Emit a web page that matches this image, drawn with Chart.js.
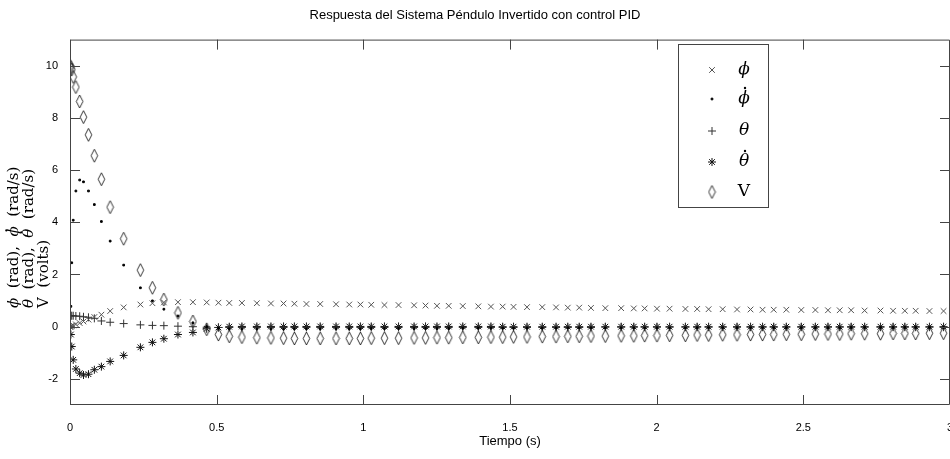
<!DOCTYPE html>
<html>
<head>
<meta charset="utf-8">
<script src="https://cdn.jsdelivr.net/npm/chart.js@4/dist/chart.umd.min.js"></script>
<style>
  body { margin: 0; background: #fff; }
</style>
</head>
<body>
<canvas id="grafico" width="950" height="459"></canvas>
<script>
// tiempos de muestreo (s)
const tiempo = [0, 0.003, 0.006, 0.011, 0.020, 0.033, 0.046, 0.063, 0.083, 0.107,
  0.137, 0.183, 0.240, 0.281, 0.320, 0.368, 0.419, 0.466, 0.506, 0.543,
  0.586, 0.637, 0.685, 0.728, 0.765, 0.806, 0.853, 0.907, 0.952, 0.990,
  1.027, 1.072, 1.120, 1.173, 1.212, 1.251, 1.291, 1.339, 1.392, 1.435,
  1.475, 1.512, 1.558, 1.610, 1.657, 1.697, 1.736, 1.776, 1.825, 1.879,
  1.922, 1.959, 2.001, 2.044, 2.098, 2.138, 2.177, 2.225, 2.274, 2.320,
  2.361, 2.399, 2.442, 2.493, 2.541, 2.584, 2.624, 2.663, 2.709, 2.763,
  2.806, 2.846, 2.883, 2.930, 2.978]

// phi (rad)
const phi = [0, 0.01, 0.03, 0.05, 0.09, 0.14, 0.2, 0.27, 0.37, 0.46,
  0.6, 0.74, 0.85, 0.9, 0.93, 0.94, 0.94, 0.93, 0.92, 0.91,
  0.91, 0.9, 0.89, 0.89, 0.88, 0.87, 0.87, 0.86, 0.85, 0.85,
  0.84, 0.83, 0.83, 0.82, 0.81, 0.8, 0.8, 0.79, 0.78, 0.77,
  0.77, 0.76, 0.75, 0.75, 0.74, 0.73, 0.73, 0.72, 0.71, 0.71,
  0.7, 0.7, 0.69, 0.69, 0.68, 0.68, 0.67, 0.67, 0.66, 0.66,
  0.65, 0.65, 0.65, 0.64, 0.64, 0.63, 0.63, 0.63, 0.62, 0.62,
  0.61, 0.61, 0.61, 0.6, 0.6]

// phi punto (rad/s)
const phiDot = [0, 0.78, 2.45, 4.08, 5.2, 5.62, 5.55, 5.2, 4.68, 4.03,
  3.28, 2.36, 1.49, 0.99, 0.67, 0.41, 0.15, 0.0, -0.06, -0.08,
  -0.09, -0.09, -0.09, -0.09, -0.08, -0.08, -0.08, -0.08, -0.08, -0.08,
  -0.07, -0.07, -0.07, -0.07, -0.07, -0.07, -0.07, -0.06, -0.06, -0.06,
  -0.06, -0.06, -0.06, -0.06, -0.06, -0.05, -0.05, -0.05, -0.05, -0.05,
  -0.05, -0.05, -0.05, -0.05, -0.05, -0.04, -0.04, -0.04, -0.04, -0.04,
  -0.04, -0.04, -0.04, -0.04, -0.04, -0.04, -0.04, -0.03, -0.03, -0.03,
  -0.03, -0.03, -0.03, -0.03, -0.03]

// theta (rad)
const theta = [0.42, 0.42, 0.42, 0.42, 0.41, 0.4, 0.38, 0.36, 0.32, 0.22,
  0.17, 0.12, 0.07, 0.05, 0.04, 0.02, 0.0, -0.02, -0.03, -0.03,
  -0.03, -0.03, -0.03, -0.03, -0.03, -0.03, -0.03, -0.03, -0.03, -0.03,
  -0.03, -0.03, -0.03, -0.03, -0.03, -0.03, -0.03, -0.03, -0.03, -0.03,
  -0.03, -0.03, -0.03, -0.03, -0.03, -0.03, -0.03, -0.03, -0.02, -0.02,
  -0.02, -0.02, -0.02, -0.02, -0.02, -0.02, -0.02, -0.02, -0.02, -0.02,
  -0.02, -0.02, -0.02, -0.02, -0.02, -0.02, -0.02, -0.02, -0.02, -0.02,
  -0.02, -0.02, -0.02, -0.02, -0.02]

// theta punto (rad/s)
const thetaDot = [0, -0.3, -0.76, -1.27, -1.62, -1.78, -1.85, -1.82, -1.65, -1.53,
  -1.33, -1.1, -0.79, -0.6, -0.46, -0.3, -0.22, -0.08, -0.03, 0.0,
  0.01, 0.01, 0.01, 0.01, 0.01, 0.01, 0.01, 0.01, 0.01, 0.01,
  0.01, 0.01, 0.01, 0.01, 0.01, 0.01, 0.01, 0.01, 0.01, 0.01,
  0.0, 0.0, 0.0, 0.0, 0.0, 0.0, 0.0, 0.0, 0.0, 0.0,
  0.0, 0.0, 0.0, 0.0, 0.0, 0.0, 0.0, 0.0, 0.0, 0.0,
  0.0, 0.0, 0.0, 0.0, 0.0, 0.0, 0.0, 0.0, 0.0, 0.0,
  0.0, 0.0, 0.0, 0.0, 0.0]

// V (volts)
const volts = [10, 9.95, 9.85, 9.57, 9.18, 8.63, 8.03, 7.35, 6.55, 5.65,
  4.58, 3.37, 2.17, 1.49, 1.04, 0.53, 0.2, -0.1, -0.3, -0.37,
  -0.4, -0.42, -0.43, -0.44, -0.45, -0.45, -0.45, -0.45, -0.45, -0.45,
  -0.44, -0.44, -0.44, -0.43, -0.43, -0.42, -0.42, -0.41, -0.41, -0.4,
  -0.4, -0.39, -0.39, -0.38, -0.38, -0.37, -0.37, -0.36, -0.36, -0.35,
  -0.35, -0.34, -0.34, -0.33, -0.33, -0.32, -0.32, -0.31, -0.31, -0.3,
  -0.3, -0.3, -0.29, -0.29, -0.28, -0.28, -0.28, -0.27, -0.27, -0.27,
  -0.26, -0.26, -0.26, -0.25, -0.25]

const xTicks = [0, 0.5, 1, 1.5, 2, 2.5, 3]
const yTicks = [-2, 0, 2, 4, 6, 8, 10]

const sans = '"Liberation Sans Narrow", "Liberation Sans", Arial, sans-serif'
const serif = '"DejaVu Serif", "Liberation Serif", serif'

// rombo alto (matlab 'd')
function rombo() {
  const c = document.createElement('canvas')
  c.width = 9; c.height = 15
  const g = c.getContext('2d')
  g.strokeStyle = '#000'
  g.lineWidth = 0.8
  g.beginPath()
  g.moveTo(4.5, 1); g.lineTo(7.8, 7.5); g.lineTo(4.5, 14); g.lineTo(1.2, 7.5); g.closePath()
  g.stroke()
  return c
}
const imgRombo = rombo()

const estilos = [
  { pointStyle: 'crossRot', radius: 4, borderColor: '#555' },
  { pointStyle: 'rect', radius: 1.2, borderColor: '#000', backgroundColor: '#000' },
  { pointStyle: 'cross', radius: 4, borderColor: '#333' },
  { pointStyle: 'star', radius: 4, borderColor: '#111' },
  { pointStyle: imgRombo, radius: 7, borderColor: '#111' }
]

function serie(label, ys, k) {
  return {
    label: label,
    data: tiempo.map((t, i) => ({ x: t, y: ys[i] })),
    pointStyle: estilos[k].pointStyle,
    pointRadius: estilos[k].radius,
    pointBorderColor: estilos[k].borderColor,
    pointBackgroundColor: estilos[k].backgroundColor || 'rgba(0,0,0,0)',
    pointBorderWidth: 1,
    showLine: false
  }
}

// texto con partes en cursiva y punto encima
function textoMixto(ctx, partes, x, y, size) {
  let cx = x
  for (const p of partes) {
    ctx.font = (p.it ? 'italic ' : '') + size + 'px ' + serif
    ctx.fillText(p.t, cx, y)
    const w = ctx.measureText(p.t).width
    if (p.dot) {
      ctx.beginPath()
      ctx.arc(cx + w * 0.6, y - size * 0.78, 1.1, 0, Math.PI * 2)
      ctx.fill()
    }
    cx += w
  }
}

const ejes = {
  id: 'ejes',
  afterDraw(chart) {
    const ctx = chart.ctx
    const a = chart.chartArea
    const sx = chart.scales.x, sy = chart.scales.y
    ctx.save()
    ctx.strokeStyle = '#444'
    ctx.lineWidth = 1
    ctx.beginPath()
    ctx.rect(a.left + 0.5, a.top + 0.5, a.right - a.left - 1, a.bottom - a.top - 1)
    xTicks.forEach(v => {
      const px = Math.round(sx.getPixelForValue(v)) + 0.5
      ctx.moveTo(px, a.bottom); ctx.lineTo(px, a.bottom - 10)
      ctx.moveTo(px, a.top); ctx.lineTo(px, a.top + 10)
    })
    yTicks.forEach(v => {
      const py = Math.round(sy.getPixelForValue(v)) + 0.5
      ctx.moveTo(a.left, py); ctx.lineTo(a.left + 10, py)
      ctx.moveTo(a.right, py); ctx.lineTo(a.right - 10, py)
    })
    ctx.stroke()

    // etiqueta eje y
    ctx.fillStyle = '#000'
    ctx.translate(0, 308)
    ctx.rotate(-Math.PI / 2)
    ctx.textBaseline = 'alphabetic'
    textoMixto(ctx, [{ t: 'ϕ', it: true }, { t: '  (rad),  ' }, { t: 'ϕ', it: true, dot: true }, { t: '  (rad/s)' }], 0, 18, 15)
    textoMixto(ctx, [{ t: 'θ', it: true }, { t: '  (rad),  ' }, { t: 'θ', it: true, dot: true }, { t: '  (rad/s)' }], 0, 33, 15)
    textoMixto(ctx, [{ t: 'V  (volts)' }], 0, 48, 15)
    ctx.restore()

    // leyenda
    const filas = [
      [0, 'ϕ', true, false, 70], [1, 'ϕ', true, true, 99], [2, 'θ', true, false, 131],
      [3, 'θ', true, true, 162], [4, 'V', false, false, 192]
    ]
    ctx.save()
    ctx.fillStyle = '#fff'
    ctx.fillRect(678, 44, 90, 163)
    ctx.strokeStyle = '#444'
    ctx.strokeRect(678.5, 44.5, 90, 163)
    ctx.textBaseline = 'middle'
    ctx.textAlign = 'center'
    filas.forEach(f => {
      const e = estilos[f[0]]
      ctx.strokeStyle = e.borderColor
      ctx.fillStyle = e.backgroundColor || '#000'
      Chart.helpers.drawPoint(ctx, {
        pointStyle: e.pointStyle, radius: e.radius, borderWidth: 1, rotation: 0
      }, 712, f[4])
      ctx.fillStyle = '#000'
      ctx.font = (f[2] ? 'italic ' : '') + '17px ' + serif
      ctx.fillText(f[1], 744, f[4])
      if (f[3]) {
        ctx.beginPath()
        ctx.arc(745, f[4] - 11, 1.2, 0, Math.PI * 2)
        ctx.fill()
      }
    })
    ctx.restore()
  }
}

const ctx = document.getElementById('grafico').getContext('2d')
const scatterChart = new Chart(ctx, {
  type: 'scatter',
  data: {
    datasets: [
      serie('ϕ', phi, 0),
      serie('ϕ̇', phiDot, 1),
      serie('θ', theta, 2),
      serie('θ̇', thetaDot, 3),
      serie('V', volts, 4)
    ]
  },
  options: {
    responsive: false,
    animation: false,
    layout: { padding: 0, autoPadding: false },
    plugins: {
      legend: { display: false },
      tooltip: { enabled: false },
      title: {
        display: true,
        text: 'Respuesta del Sistema Péndulo Invertido con control PID',
        color: '#000',
        font: { family: sans, size: 13, weight: 'normal' },
        padding: { top: 8, bottom: 16 }
      }
    },
    scales: {
      x: {
        type: 'linear',
        min: 0, max: 3,
        afterBuildTicks: s => { s.ticks = xTicks.map(v => ({ value: v })) },
        afterFit: s => { s.height = 54; s.paddingLeft = 0; s.paddingRight = 0 },
        grid: { display: false },
        border: { display: false },
        ticks: { color: '#000', font: { family: sans, size: 11 }, padding: 8, maxRotation: 0, autoSkip: false,
          callback: v => String(v) },
        title: { display: true, text: 'Tiempo (s)', color: '#000', font: { family: sans, size: 13 }, padding: { top: 6, bottom: 10 } }
      },
      y: {
        min: -3, max: 11,
        afterBuildTicks: s => { s.ticks = yTicks.map(v => ({ value: v })) },
        afterFit: s => { s.width = 70; s.paddingTop = 0; s.paddingBottom = 0 },
        grid: { display: false },
        border: { display: false },
        ticks: { color: '#000', font: { family: sans, size: 11 }, padding: 4, autoSkip: false }
      }
    }
  },
  plugins: [ejes]
})
</script>
</body>
</html>
